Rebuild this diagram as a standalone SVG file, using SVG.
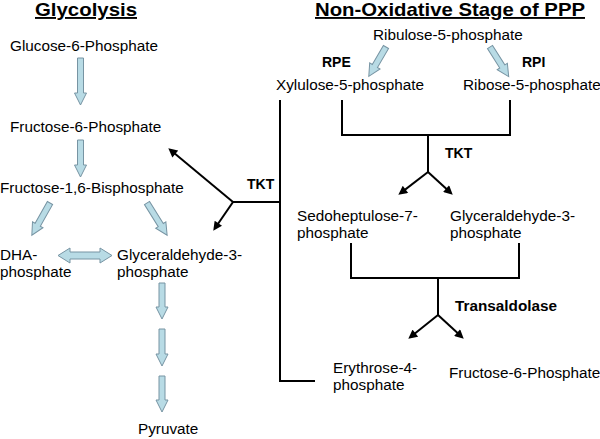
<svg xmlns="http://www.w3.org/2000/svg" width="600" height="439" viewBox="0 0 600 439">
<defs>
<style>
text{font-family:"Liberation Sans",Arial,sans-serif;fill:#000}
.t{font-size:15.3px}
.b{font-size:14px;font-weight:bold}
.h{font-size:19px;font-weight:bold;text-decoration:underline}
.blk{fill:#b8dbe5;stroke:#7794a3;stroke-width:1}
.ln{fill:none;stroke:#000;stroke-width:2}
.ar{fill:none;stroke:#000;stroke-width:2;marker-end:url(#ah)}
</style>
<marker id="ah" viewBox="0 0 10 10" refX="6" refY="5" markerUnits="userSpaceOnUse" markerWidth="10" markerHeight="9" orient="auto">
<path d="M0,0 L10,5 L0,10 z" fill="#000"/>
</marker>
</defs>
<rect width="600" height="439" fill="#fff"/>

<text class="h" x="86" y="16" text-anchor="middle" textLength="102" lengthAdjust="spacingAndGlyphs">Glycolysis</text>
<text class="h" x="450" y="16" text-anchor="middle" textLength="270" lengthAdjust="spacingAndGlyphs">Non-Oxidative Stage of PPP</text>

<g id="glucose6p"><text class="t" x="10" y="51">Glucose-6-Phosphate</text></g>
<g id="fructose6p"><text class="t" x="10" y="132">Fructose-6-Phosphate</text></g>
<g id="fructose16bp"><text class="t" x="0" y="193">Fructose-1,6-Bisphosphate</text></g>
<g id="dhap"><text class="t" x="0" y="260">DHA-</text><text class="t" x="0" y="277">phosphate</text></g>
<g id="g3p-left"><text class="t" x="117" y="260">Glyceraldehyde-3-</text><text class="t" x="117" y="277">phosphate</text></g>
<g id="pyruvate"><text class="t" x="138" y="434">Pyruvate</text></g>

<g id="ribulose5p"><text class="t" x="373" y="40">Ribulose-5-phosphate</text></g>
<g id="xylulose5p"><text class="t" x="276" y="90">Xylulose-5-phosphate</text></g>
<g id="ribose5p"><text class="t" x="463" y="90">Ribose-5-phosphate</text></g>
<g id="sedoheptulose7p"><text class="t" x="297" y="221">Sedoheptulose-7-</text><text class="t" x="297" y="238">phosphate</text></g>
<g id="g3p-right"><text class="t" x="450" y="221">Glyceraldehyde-3-</text><text class="t" x="450" y="238">phosphate</text></g>
<g id="erythrose4p"><text class="t" x="333" y="373">Erythrose-4-</text><text class="t" x="333" y="390">phosphate</text></g>
<g id="fructose6p-right"><text class="t" x="449" y="378">Fructose-6-Phosphate</text></g>

<g id="labels">
<text class="b" x="322" y="67">RPE</text>
<text class="b" x="522" y="67">RPI</text>
<text class="b" x="445" y="158">TKT</text>
<text class="b" x="247" y="189">TKT</text>
<text class="b" x="455" y="311" textLength="102" lengthAdjust="spacingAndGlyphs">Transaldolase</text>
</g>

<g id="connectors">
<path class="blk" d="M-3,0 L3,0 L3,35 L6,35 L0,47 L-6,35 L-3,35 z" transform="translate(80.5,58)"/>
<path class="blk" d="M-3,0 L3,0 L3,25 L6,25 L0,37 L-6,25 L-3,25 z" transform="translate(80.5,140)"/>
<path class="blk" d="M-3,0 L3,0 L3,25 L6,25 L0,37 L-6,25 L-3,25 z" transform="translate(50,203) rotate(29.4)"/>
<path class="blk" d="M-3,0 L3,0 L3,26 L6,26 L0,38 L-6,26 L-3,26 z" transform="translate(147,203) rotate(-32)"/>
<path class="blk" d="M58,255.5 L70,248 L70,252 L100,252 L100,248 L112,255.5 L100,263 L100,259 L70,259 L70,263 z"/>
<path class="blk" d="M-3,0 L3,0 L3,24 L6,24 L0,36 L-6,24 L-3,24 z" transform="translate(162,283)"/>
<path class="blk" d="M-3,0 L3,0 L3,25 L6,25 L0,37 L-6,25 L-3,25 z" transform="translate(162,329)"/>
<path class="blk" d="M-3,0 L3,0 L3,24 L6,24 L0,36 L-6,24 L-3,24 z" transform="translate(162,376)"/>
<path class="blk" d="M-3,0 L3,0 L3,22 L6,22 L0,34 L-6,22 L-3,22 z" transform="translate(386,47) rotate(30.4)"/>
<path class="blk" d="M-3,0 L3,0 L3,23 L6,23 L0,35 L-6,23 L-3,23 z" transform="translate(490,47) rotate(-32.3)"/>

<path class="ln" d="M280,100 L280,381 L315,381"/>
<path class="ln" d="M233,202 L280,202"/>
<path class="ar" d="M233,202 L171.1,150.6"/>
<path class="ar" d="M233,202 L215.3,227.7"/>

<path class="ln" d="M342,100 L342,135 L510,135 L510,100 M428,135 L428,172"/>
<path class="ar" d="M428,172 L401.2,192.6"/>
<path class="ar" d="M428,172 L450.1,192.3"/>

<path class="ln" d="M351,243 L351,278 L519,278 L519,243 M438,278 L438,315"/>
<path class="ar" d="M438,315 L411.1,336.5"/>
<path class="ar" d="M438,315 L461.1,336.3"/>
</g>
</svg>
